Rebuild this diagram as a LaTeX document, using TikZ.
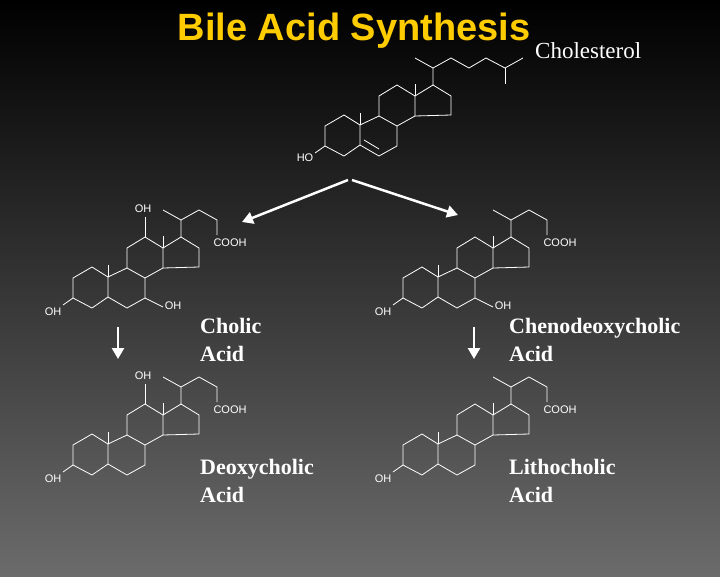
\documentclass[tikz,border=0pt]{standalone}
\usepackage{fontspec}
\setmainfont{Liberation Serif}
\newfontfamily\arialf{Liberation Sans}
\usetikzlibrary{arrows.meta}
\begin{document}
\begin{tikzpicture}[x=1pt,y=-1pt,
  bond/.style={white,line width=0.8pt,line join=miter},
  lab/.style={white,font=\arialf\fontsize{11}{11}\selectfont,inner sep=0pt},
  acidname/.style={white,font=\fontsize{22}{28}\selectfont\bfseries,align=left,inner sep=0pt,anchor=north west},
  bigarrow/.style={white,line width=2.5pt,-{Triangle[length=11pt,width=12pt]}}]
\shade[top color=black,bottom color=black!58!white] (0,0) rectangle (720,576);
\useasboundingbox (0,0) rectangle (720,576);
\newcommand{\ringsys}{%
  \draw[bond] (73,298)--(73,278)--(92,267)--(108,277)--(108,297)--(92,308)--cycle;
  \draw[bond] (108,277)--(127,268)--(145,278)--(145,298)--(127,308)--(108,297);
  \draw[bond] (127,268)--(127,248)--(145,237)--(163,248)--(163,268)--(145,278);
  \draw[bond] (163,248)--(181,237)--(199,248)--(199,267)--(163,268);
  \draw[bond] (108,277)--(108,265);
  \draw[bond] (163,248)--(163,236);
  \draw[bond] (181,237)--(181,220)--(163,210);
}
\newcommand{\acidchain}{%
  \draw[bond] (181,220)--(199,210)--(217,220)--(217,235);
  \node[lab] at (230,243) {COOH};
  \draw[bond] (73,298)--(63,305);
  \node[lab] at (53,312) {OH};
}
\newcommand{\ohtwelve}{\draw[bond] (145,237)--(145,217); \node[lab] at (143,209) {OH};}
\newcommand{\ohseven}{\draw[bond] (145,298)--(163,307); \node[lab] at (173,306) {OH};}
% cholesterol
\begin{scope}[shift={(252,-152)}]
  \ringsys
  \draw[bond] (112,292)--(127,301);
  \draw[bond] (181,220)--(199,210)--(217,220)--(234,210)--(253,220)--(271,210);
  \draw[bond] (253,220)--(253,236);
  \draw[bond] (73,298)--(63,305);
  \node[lab] at (53,310) {HO};
\end{scope}
\node[text=white,font=\fontsize{23}{25}\selectfont,anchor=west,inner sep=0pt] (chol) at (535,51) {Cholesterol};
\node[font=\arialf\bfseries\fontsize{38}{40}\selectfont,text={rgb,255:red,255;green,204;blue,0},inner sep=0pt] (title) at (354,31) {Bile Acid Synthesis};
% cholic
\begin{scope}\ringsys\acidchain\ohtwelve\ohseven\end{scope}
% chenodeoxycholic
\begin{scope}[shift={(330,0)}]\ringsys\acidchain\ohseven\end{scope}
% deoxycholic
\begin{scope}[shift={(0,167)}]\ringsys\acidchain\ohtwelve\end{scope}
% lithocholic
\begin{scope}[shift={(330,167)}]\ringsys\acidchain\end{scope}
\node[acidname] (cholic) at (200,318) {Cholic\\Acid};
\node[acidname] (cheno) at (509,318) {Chenodeoxycholic\\Acid};
\node[acidname] (deoxy) at (200,459) {Deoxycholic\\Acid};
\node[acidname] (litho) at (509,459) {Lithocholic\\Acid};
\coordinate (a0) at (348,180); \coordinate (a1) at (242,222);
\coordinate (b0) at (352,180); \coordinate (b1) at (458,215);
\draw[bigarrow] (a0)--(a1);
\draw[bigarrow] (b0)--(b1);
\coordinate (c0) at (118,327); \coordinate (c1) at (118,359);
\coordinate (d0) at (474,327); \coordinate (d1) at (474,359);
\draw[bigarrow] (c0)--(c1);
\draw[bigarrow] (d0)--(d1);
\end{tikzpicture}
\end{document}
